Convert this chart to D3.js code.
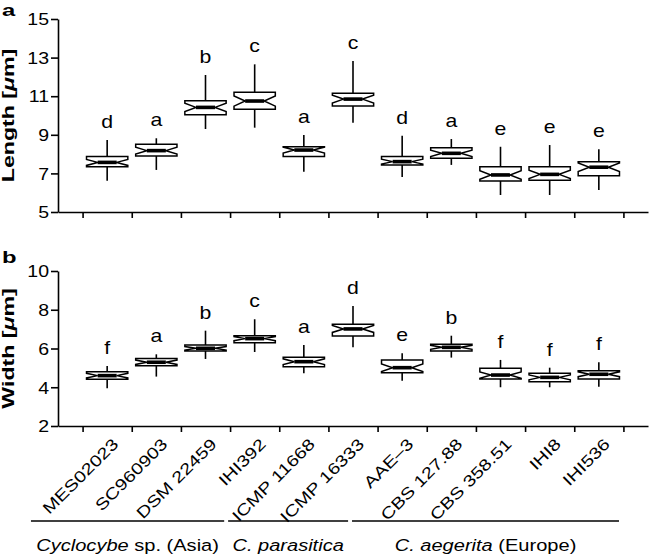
<!DOCTYPE html>
<html>
<head>
<meta charset="utf-8">
<script src="https://cdn.jsdelivr.net/npm/d3@7"></script>
<style>
  html, body { margin: 0; padding: 0; background: #fff; }
  svg { display: block; font-family: "Liberation Sans", Arial, Helvetica, sans-serif; }
</style>
</head>
<body>
<svg id="chart" width="649" height="555"></svg>
<script>
// ---------- data ----------
const categories = ["MES02023", "SC960903", "DSM 22459", "IHI392", "ICMP 11668", "ICMP 16333",
                    "AAE–3", "CBS 127.88", "CBS 358.51", "IHI8", "IHI536"];

// Panel a: spore length [µm]
const lengthMin    = [6.62, 7.18, 9.30, 9.37, 7.09, 9.63, 6.81, 7.44, 5.88, 5.88, 6.14];
const lengthQ1     = [7.35, 7.90, 10.04, 10.32, 7.87, 10.49, 7.44, 7.78, 6.61, 6.64, 6.88];
const lengthMedian = [7.57, 8.18, 10.42, 10.75, 8.21, 10.85, 7.61, 8.04, 6.92, 6.95, 7.32];
const lengthQ3     = [7.87, 8.51, 10.77, 11.20, 8.38, 11.15, 7.87, 8.33, 7.35, 7.35, 7.61];
const lengthMax    = [8.73, 8.82, 12.10, 12.65, 8.99, 12.82, 8.95, 8.78, 8.38, 8.47, 8.25];
const lengthLetters = ["d", "a", "b", "c", "a", "c", "d", "a", "e", "e", "e"];
const lengthTicks  = [5, 7, 9, 11, 13, 15];

// Panel b: spore width [µm]
const widthMin    = [3.95, 4.55, 5.46, 5.82, 4.72, 6.06, 4.34, 5.53, 4.00, 4.00, 4.03];
const widthQ1     = [4.41, 5.11, 5.87, 6.30, 5.06, 6.65, 4.75, 5.87, 4.43, 4.29, 4.43];
const widthMedian = [4.60, 5.29, 6.01, 6.51, 5.32, 7.01, 5.01, 6.06, 4.63, 4.51, 4.67];
const widthQ3     = [4.80, 5.49, 6.18, 6.66, 5.55, 7.25, 5.41, 6.22, 4.98, 4.72, 4.85];
const widthMax    = [5.10, 5.70, 6.92, 7.51, 6.18, 8.19, 5.75, 6.66, 5.41, 5.01, 5.29];
const widthLetters = ["f", "a", "b", "c", "a", "d", "e", "b", "f", "f", "f"];
const widthTicks   = [2, 4, 6, 8, 10];

// Groups (span in category-index units)
const groupItalic = ["Cyclocybe", "C. parasitica", "C. aegerita"];
const groupPlain  = [" sp. (Asia)", "", " (Europe)"];
const groupFrom   = [-1.55, 2.46, 4.98];
const groupTo     = [2.38, 4.90, 10.41];

// ---------- layout ----------
const svg = d3.select("#chart");
const axisLeftX = 58, axisRightX = 648;

const xIdx = d3.scaleLinear().domain([-1, categories.length]).range([axisLeftX, axisRightX]);
const x = d3.scaleBand().domain(categories).range([axisLeftX, axisRightX]).paddingOuter(0.5).paddingInner(0);
const boxHalf = x.bandwidth() * 0.42;
const notchInset = boxHalf * 2 * 0.27;

function panel(cfg) {
  const y = d3.scaleLinear().domain(cfg.domain).range(cfg.range);
  const g = svg.append("g");

  // y axis
  const ya = g.append("g").attr("transform", `translate(${axisLeftX},0)`)
    .call(d3.axisLeft(y).tickValues(cfg.ticks).tickSize(7).tickSizeOuter(0));
  ya.select(".domain").attr("stroke-width", 1.6);
  ya.selectAll(".tick line").attr("stroke-width", 1.6);
  ya.selectAll(".tick text")
    .attr("x", 0).attr("dy", "0.36em")
    .attr("transform", `translate(-9,0) scale(1.22,1)`)
    .attr("font-size", 16).attr("fill", "#000");

  // x axis (ticks at category boundaries)
  const xa = g.append("g").attr("transform", `translate(0,${cfg.range[0]})`)
    .call(d3.axisBottom(xIdx).tickValues(d3.range(-0.5, categories.length, 1))
      .tickSize(6).tickSizeOuter(0).tickFormat(""));
  xa.select(".domain").attr("stroke-width", 1.6);
  xa.selectAll(".tick line").attr("stroke-width", 1.6);

  const rows = categories.map((c, i) => ({
    c, lo: cfg.min[i], q1: cfg.q1[i], med: cfg.med[i], q3: cfg.q3[i], hi: cfg.max[i], letter: cfg.letters[i]
  }));

  const bx = g.selectAll("g.box").data(rows).join("g").attr("class", "box")
    .attr("transform", d => `translate(${x(d.c) + x.bandwidth() / 2},0)`);

  // whiskers
  bx.append("line").attr("x1", 0).attr("x2", 0)
    .attr("y1", d => y(d.hi)).attr("y2", d => y(d.q3))
    .attr("stroke", "#000").attr("stroke-width", 1.6);
  bx.append("line").attr("x1", 0).attr("x2", 0)
    .attr("y1", d => y(d.q1)).attr("y2", d => y(d.lo))
    .attr("stroke", "#000").attr("stroke-width", 1.6);

  // notched box
  bx.append("path")
    .attr("d", d => {
      const iqr = d.q3 - d.q1;
      const nTop = Math.min(d.q3, d.med + 0.3 * iqr);
      const nBot = Math.max(d.q1, d.med - 0.3 * iqr);
      const w = boxHalf, s = notchInset;
      return `M${-w},${y(d.q3)}H${w}V${y(nTop)}L${w - s},${y(d.med)}L${w},${y(nBot)}V${y(d.q1)}` +
             `H${-w}V${y(nBot)}L${-w + s},${y(d.med)}L${-w},${y(nTop)}Z`;
    })
    .attr("fill", "#fff").attr("stroke", "#000").attr("stroke-width", 1.5)
    .attr("stroke-linejoin", "miter");

  // median bar
  bx.append("line")
    .attr("x1", -boxHalf + notchInset).attr("x2", boxHalf - notchInset)
    .attr("y1", d => y(d.med)).attr("y2", d => y(d.med))
    .attr("stroke", "#000").attr("stroke-width", 3.6);

  // significance letters
  bx.append("text")
    .attr("transform", d => `translate(0,${y(d.hi) - 12}) scale(1.18,1)`)
    .attr("text-anchor", "middle").attr("font-size", 18).attr("fill", "#000")
    .text(d => d.letter);

  // axis title
  const cy = (cfg.range[0] + cfg.range[1]) / 2;
  const title = g.append("text")
    .attr("transform", `translate(14,${cy}) rotate(-90) scale(1.36,1)`)
    .attr("text-anchor", "middle").attr("font-size", 17).attr("font-weight", "bold").attr("fill", "#000");
  title.append("tspan").text(cfg.title + " [");
  title.append("tspan").attr("font-style", "italic").text("μ");
  title.append("tspan").text("m]");

  // panel letter
  g.append("text")
    .attr("transform", `translate(2,${cfg.letterY}) scale(1.4,1)`)
    .attr("font-size", 17).attr("font-weight", "bold").attr("fill", "#000")
    .text(cfg.panel);

  return { g, y };
}

panel({ domain: [5, 15], range: [212, 19], ticks: lengthTicks,
        min: lengthMin, q1: lengthQ1, med: lengthMedian, q3: lengthQ3, max: lengthMax,
        letters: lengthLetters, title: "Length", panel: "a", letterY: 16 });

panel({ domain: [2, 10], range: [426, 271], ticks: widthTicks,
        min: widthMin, q1: widthQ1, med: widthMedian, q3: widthQ3, max: widthMax,
        letters: widthLetters, title: "Width", panel: "b", letterY: 263 });

// category labels (rotated)
svg.append("g").selectAll("text").data(categories).join("text")
  .attr("transform", d => `translate(${x(d) + x.bandwidth() / 2 + 4},${437}) rotate(-45) scale(1.25,1)`)
  .attr("text-anchor", "end").attr("dy", "0.72em")
  .attr("font-size", 16).attr("fill", "#000")
  .text(d => d);

// group brackets
const grp = svg.append("g").selectAll("g").data(groupItalic.map((t, i) => ({ t, p: groupPlain[i], a: groupFrom[i], b: groupTo[i] })))
  .join("g");
grp.append("line")
  .attr("x1", d => xIdx(d.a)).attr("x2", d => xIdx(d.b))
  .attr("y1", 521).attr("y2", 521)
  .attr("stroke", "#000").attr("stroke-width", 1.6);
const gt = grp.append("text")
  .attr("transform", d => `translate(${(xIdx(d.a) + xIdx(d.b)) / 2},551) scale(1.18,1)`)
  .attr("text-anchor", "middle").attr("font-size", 17).attr("fill", "#000");
gt.append("tspan").attr("font-style", "italic").text(d => d.t);
gt.append("tspan").text(d => d.p);
</script>
</body>
</html>
